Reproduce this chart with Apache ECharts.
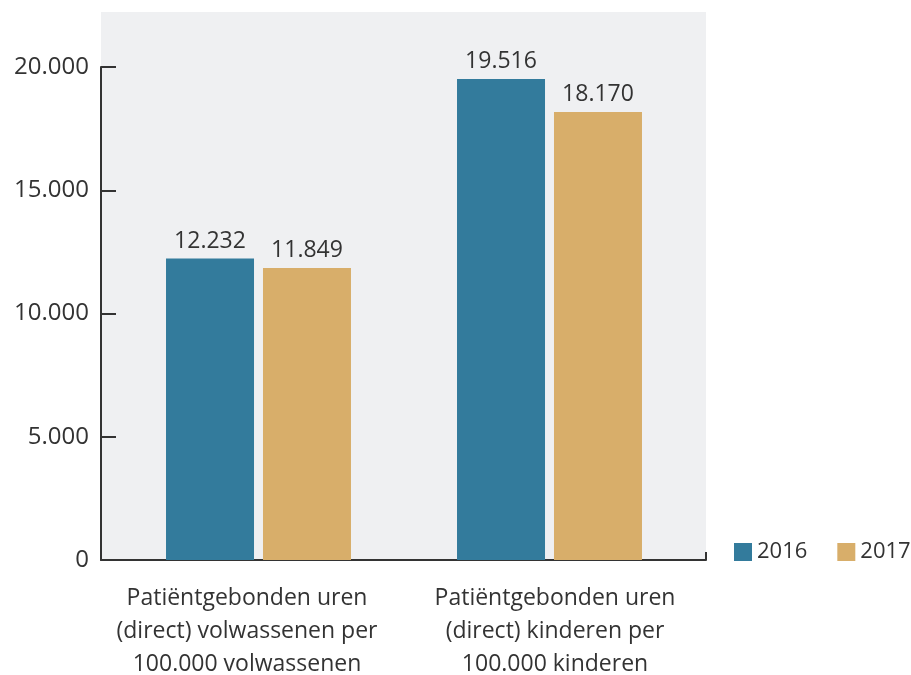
<!DOCTYPE html>
<html><head><meta charset="utf-8">
<script src="https://cdn.jsdelivr.net/npm/echarts@6/dist/echarts.min.js"></script>
<style>html,body{margin:0;padding:0;background:#fff}#c{width:911px;height:675px}</style>
</head><body><div id="c"></div>
<script>
var categories = ['Patiëntgebonden uren\n(direct) volwassenen per\n100.000 volwassenen', 'Patiëntgebonden uren\n(direct) kinderen per\n100.000 kinderen'];
var seriesNames = ['2016', '2017'];
var values2016 = [12232, 19516];
var values2017 = [11849, 18170];
var colors = ['#337b9c', '#d8ae6a'];
var FONT = 'Open Sans';
var TXT = '#333333';
function fmt(v){ return String(v).replace(/\B(?=(\d{3})+(?!\d))/g, '.'); }

var chart = echarts.init(document.getElementById('c'), null, {renderer:'canvas'});
var gTop = 67, gBottom = 115;
chart.setOption({
  animation:false,
  textStyle:{fontFamily:FONT},
  graphic:[
    {type:'rect', z:-10, shape:{x:101,y:12,width:605,height:548}, style:{fill:'#eff0f2'}},
    {type:'line', z:10, shape:{x1:706,y1:552,x2:706,y2:560}, style:{stroke:'#333',lineWidth:2}}
  ],
  legend:{
    left:734, top:541, padding:0, itemWidth:18, itemHeight:18, itemGap:30, icon:'rect',
    textStyle:{fontFamily:FONT, fontSize:22, color:TXT},
    data:seriesNames
  },
  grid:[
    {left:101, right:205, top:gTop, bottom:gBottom, outerBoundsMode:'none', containLabel:false},
    {left:113, right:216, top:gTop, bottom:gBottom, outerBoundsMode:'none', containLabel:false},
    {left:93, right:202, top:gTop, bottom:gBottom, outerBoundsMode:'none', containLabel:false},
    {left:0, right:810, top:gTop, bottom:gBottom, outerBoundsMode:'none', containLabel:false}
  ],
  xAxis:[
    {gridIndex:0, type:'category', data:categories, axisLine:{lineStyle:{color:'#333',width:2}}, axisTick:{show:false}, axisLabel:{show:false}},
    {gridIndex:1, type:'category', data:categories, show:false},
    {gridIndex:2, type:'category', data:categories, axisLine:{show:false}, axisTick:{show:false},
     axisLabel:{margin:22, fontFamily:FONT, fontSize:23, color:TXT, lineHeight:33, interval:0}},
    {gridIndex:3, type:'category', data:categories, show:false}
  ],
  yAxis:[
    {gridIndex:0, type:'value', min:0, max:20000, interval:5000,
     axisLine:{show:true, lineStyle:{color:'#333',width:2}},
     axisTick:{show:false},
     splitLine:{show:false},
     axisLabel:{margin:12, fontFamily:FONT, fontSize:24, color:TXT, formatter:function(v){return fmt(v);}}},
    {gridIndex:1, type:'value', min:0, max:20000, interval:5000, show:false, splitLine:{show:false}},
    {gridIndex:2, type:'value', min:0, max:20000, interval:5000, show:false, splitLine:{show:false}},
    {gridIndex:3, type:'value', position:'right', min:0, max:20000, interval:5000,
     axisLine:{show:false}, axisLabel:{show:false}, splitLine:{show:false},
     axisTick:{show:true, length:15, lineStyle:{color:'#333',width:2}}}
  ],
  series:[
    {name:seriesNames[0], type:'bar', xAxisIndex:1, yAxisIndex:1, data:values2016, barWidth:88, barGap:'10.2%',
     itemStyle:{color:colors[0]},
     label:{show:true, position:'top', distance:6, fontFamily:FONT, fontSize:23, color:TXT, formatter:function(p){return fmt(p.value);}}},
    {name:seriesNames[1], type:'bar', xAxisIndex:1, yAxisIndex:1, data:values2017, barWidth:88, barGap:'10.2%',
     itemStyle:{color:colors[1]},
     label:{show:true, position:'top', distance:6, fontFamily:FONT, fontSize:23, color:TXT, formatter:function(p){return fmt(p.value);}}}
  ]
});
</script></body></html>
